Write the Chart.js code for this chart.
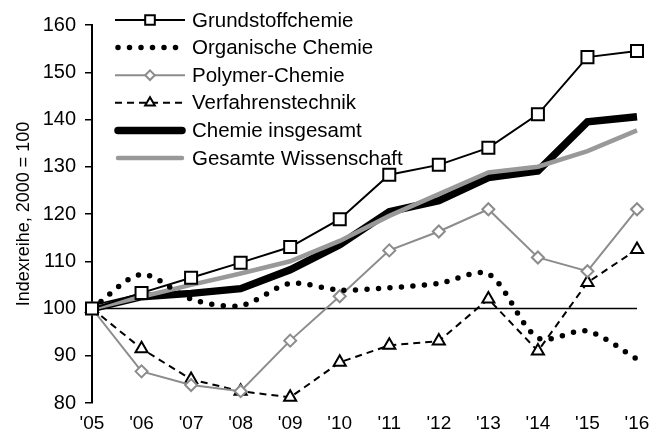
<!DOCTYPE html>
<html>
<head>
<meta charset="utf-8">
<script src="https://cdn.jsdelivr.net/npm/chart.js@4"></script>
<style>
  html, body { margin: 0; padding: 0; background: #fff; }
  #wrap { width: 662px; height: 437px; }
</style>
</head>
<body>
<div id="wrap"><canvas id="indexChart" width="662" height="437"></canvas></div>
<script>
const years = ["'05", "'06", "'07", "'08", "'09", "'10", "'11", "'12", "'13", "'14", "'15", "'16"];
const grundstoff = [100, 103.3, 106.5, 109.7, 113, 118.9, 128.3, 130.4, 134, 141.1, 153.2, 154.5];
const organisch = [100, 107.2, 102, 100.6, 105.3, 103.9, 104.4, 105.3, 107.3, 93.8, 95.2, 89.3];
const polymer = [100, 86.7, 83.8, 82.5, 93.2, 102.6, 112.3, 116.3, 121, 110.8, 107.9, 121];
const verfahren = [100, 91.5, 85, 82.5, 81.2, 88.6, 92.2, 93.1, 102, 91, 105.5, 112.5];
const chemieGesamt = [100, 102.5, 103.2, 104.2, 108.2, 113.5, 120.5, 122.8, 127.7, 129.1, 139.5, 140.6];
const wissenschaft = [100, 102.5, 105, 107.4, 110, 114.3, 119.6, 124.2, 128.8, 130, 133.3, 137.7];
const yTicks = [80, 90, 100, 110, 120, 130, 140, 150, 160];

const FONT = "'Liberation Sans', Arial, sans-serif";
const grey = '#8c8c8c';

const datasets = [
    {
        label: 'Grundstoffchemie', data: grundstoff, order: 0,
        borderColor: '#000', borderWidth: 2,
        pointStyle: 'rect', pointRadius: 8.5, pointBackgroundColor: '#fff',
        pointBorderColor: '#000', pointBorderWidth: 2,
    },
    {
        label: 'Organische Chemie', data: organisch, order: 1,
        borderColor: '#000', borderWidth: 5.5, borderDash: [0, 11.5], borderCapStyle: 'round',
        tension: 0.3, pointRadius: 0,
    },
    {
        label: 'Polymer-Chemie', data: polymer, order: 2,
        borderColor: grey, borderWidth: 2,
        pointStyle: 'rectRot', pointRadius: 6, pointBackgroundColor: '#fff',
        pointBorderColor: grey, pointBorderWidth: 2,
    },
    {
        label: 'Verfahrenstechnik', data: verfahren, order: 3,
        borderColor: '#000', borderWidth: 2, borderDash: [7, 5],
        pointStyle: 'triangle', pointRadius: 7, pointBackgroundColor: '#fff',
        pointBorderColor: '#000', pointBorderWidth: 2,
    },
    {
        label: 'Chemie insgesamt', data: chemieGesamt, order: 5,
        borderColor: '#000', borderWidth: 7.5, pointRadius: 0,
    },
    {
        label: 'Gesamte Wissenschaft', data: wissenschaft, order: 4,
        borderColor: '#999', borderWidth: 4.5, pointRadius: 0,
    },
];

// line at 100 and legend drawn inside the plot
const extras = {
    id: 'extras',
    beforeDatasetsDraw(chart) {
        const { ctx, chartArea, scales } = chart;
        const y = scales.y.getPixelForValue(100);
        ctx.save();
        ctx.strokeStyle = '#000';
        ctx.lineWidth = 1.5;
        ctx.beginPath();
        ctx.moveTo(chartArea.left, y);
        ctx.lineTo(chartArea.right, y);
        ctx.stroke();
        ctx.restore();
    },
    afterDraw(chart) {
        const ctx = chart.ctx;
        const x0 = 115, x1 = 185, top = 20, gap = 27.6;
        ctx.save();
        datasets.forEach((ds, i) => {
            const y = top + i * gap;
            ctx.save();
            ctx.strokeStyle = ds.borderColor;
            ctx.lineWidth = ds.borderWidth;
            ctx.lineCap = ds.borderWidth > 4 ? 'round' : 'butt';
            ctx.setLineDash(ds.borderDash || []);
            ctx.beginPath();
            ctx.moveTo(x0 + (ds.borderWidth > 4 ? 3 : 0), y);
            ctx.lineTo(x1 - (ds.borderWidth > 4 ? 3 : 0), y);
            ctx.stroke();
            ctx.restore();
            if (ds.pointRadius > 0) {
                ctx.save();
                ctx.fillStyle = ds.pointBackgroundColor;
                ctx.strokeStyle = ds.pointBorderColor;
                ctx.lineWidth = ds.pointBorderWidth;
                Chart.helpers.drawPoint(ctx, { pointStyle: ds.pointStyle, radius: ds.pointRadius * 0.8, borderWidth: ds.pointBorderWidth }, (x0 + x1) / 2, y);
                ctx.restore();
            }
            ctx.fillStyle = '#000';
            ctx.font = '20.5px ' + FONT;
            ctx.textBaseline = 'middle';
            ctx.fillText(ds.label, x1 + 7, y + 1);
        });
        ctx.restore();
    }
};

new Chart(document.getElementById('indexChart'), {
    type: 'line',
    data: { labels: years, datasets: datasets },
    options: {
        responsive: false,
        animation: false,
        layout: { padding: { top: 25, right: 25, left: 0, bottom: 0 } },
        plugins: { legend: { display: false }, tooltip: { enabled: false } },
        scales: {
            x: {
                offset: false,
                afterFit: (axis) => { axis.height = 34; },
                grid: { display: false, drawTicks: false },
                border: { display: false },
                ticks: { color: '#000', font: { family: FONT, size: 19 }, padding: 9, maxRotation: 0, autoSkip: false },
            },
            y: {
                min: 80, max: 160,
                afterFit: (axis) => { axis.width = 92; },
                afterBuildTicks: (axis) => { axis.ticks = yTicks.map((v) => ({ value: v })); },
                grid: { drawOnChartArea: false, drawTicks: true, tickLength: 7, color: '#000', lineWidth: 1.5 },
                border: { display: true, color: '#000', width: 2 },
                ticks: { color: '#000', font: { family: FONT, size: 20 }, padding: 9 },
                title: { display: true, text: 'Indexreihe, 2000 = 100', color: '#000', font: { family: FONT, size: 18 }, padding: 13 },
            },
        },
    },
    plugins: [extras],
});
</script>
</body>
</html>
